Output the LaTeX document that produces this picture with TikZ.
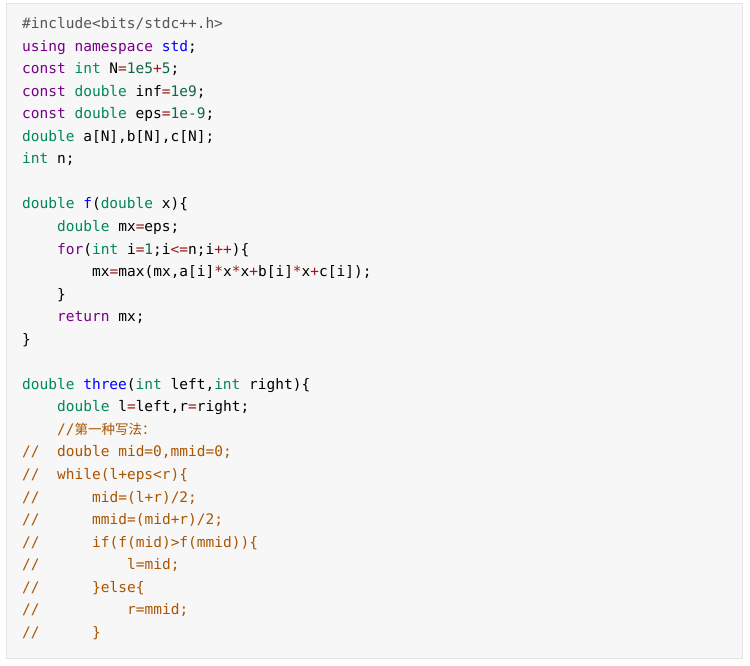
\documentclass[tikz,border=0pt]{standalone}
\usepackage{fontspec}
\usepackage{xcolor}
\newfontfamily\codefam{DejaVu Sans Mono}
\newfontfamily\cjk{Noto Sans CJK SC}
\newcommand{\codefont}{\codefam\fontsize{14.5bp}{18bp}\selectfont}
\definecolor{codebg}{HTML}{F7F7F7}
\definecolor{codeframe}{HTML}{E4E4E4}
\definecolor{kwdc}{HTML}{770088}
\definecolor{typc}{HTML}{008855}
\definecolor{dfnc}{HTML}{0000FF}
\definecolor{oprc}{HTML}{981A1A}
\definecolor{nmbc}{HTML}{116644}
\definecolor{cmtc}{HTML}{AA5500}
\definecolor{ppc}{HTML}{555555}
\newcommand{\kwd}[1]{\textcolor{kwdc}{#1}}
\newcommand{\typ}[1]{\textcolor{typc}{#1}}
\newcommand{\dfn}[1]{\textcolor{dfnc}{#1}}
\newcommand{\opr}[1]{\textcolor{oprc}{#1}}
\newcommand{\nmb}[1]{\textcolor{nmbc}{#1}}
\newcommand{\pp}[1]{\textcolor{ppc}{#1}}
\tikzset{
	code/.style={anchor=base west, inner sep=0pt, font=\codefont},
	cmtline/.style={code, text=cmtc}
}
\begin{document}
\begin{tikzpicture}[x=8.75bp, y=-22.55bp]
	\useasboundingbox (-22bp,28.5bp) rectangle (728bp,-637.5bp);
	\draw[codeframe, fill=codebg, line width=1bp] (-15.5bp,25bp) rectangle (720bp,-630bp);
	% header
	\node[code] (inc) at (0,0) {\pp{\#include<bits/stdc++.h>}};
	\node[code] (ns) at (0,1) {\kwd{using} \kwd{namespace} \dfn{std};};
	\node[code] (cN) at (0,2) {\kwd{const} \typ{int} N\opr{=}\nmb{1e5}\opr{+}\nmb{5};};
	\node[code] (cinf) at (0,3) {\kwd{const} \typ{double} inf\opr{=}\nmb{1e9};};
	\node[code] (ceps) at (0,4) {\kwd{const} \typ{double} eps\opr{=}\nmb{1e-9};};
	\node[code] (arr) at (0,5) {\typ{double} a[N],b[N],c[N];};
	\node[code] (vn) at (0,6) {\typ{int} n;};
	% f
	\node[code] (f0) at (0,8) {\typ{double} \dfn{f}(\typ{double} x)\{};
	\node[code] (f1) at (4,9) {\typ{double} mx\opr{=}eps;};
	\node[code] (f2) at (4,10) {\kwd{for}(\typ{int} i\opr{=}\nmb{1};i\opr{<=}n;i\opr{++})\{};
	\node[code] (f3) at (8,11) {mx\opr{=}max(mx,a[i]\opr{*}x\opr{*}x\opr{+}b[i]\opr{*}x\opr{+}c[i]);};
	\node[code] (f4) at (4,12) {\}};
	\node[code] (f5) at (4,13) {\kwd{return} mx;};
	\node[code] (f6) at (0,14) {\}};
	% three
	\node[code] (t0) at (0,16) {\typ{double} \dfn{three}(\typ{int} left,\typ{int} right)\{};
	\node[code] (t1) at (4,17) {\typ{double} l\opr{=}left,r\opr{=}right;};
	\node[cmtline] (t2) at (4,18) {//{\cjk\fontsize{13.5bp}{16bp}\selectfont 第一种写法：}};
	\foreach \r/\c/\t in {19/4/{double mid=0,mmid=0;}, 20/4/{while(l+eps<r)\{},
		21/8/{mid=(l+r)/2;}, 22/8/{mmid=(mid+r)/2;}, 23/8/{if(f(mid)>f(mmid))\{},
		24/12/{l=mid;}, 25/8/{\}else\{}, 26/12/{r=mmid;}, 27/8/{\}}} {
		\node[cmtline] (s\r) at (0,\r) {//};
		\node[cmtline] (c\r) at (\c,\r) {\t};
	}
\end{tikzpicture}
\end{document}
